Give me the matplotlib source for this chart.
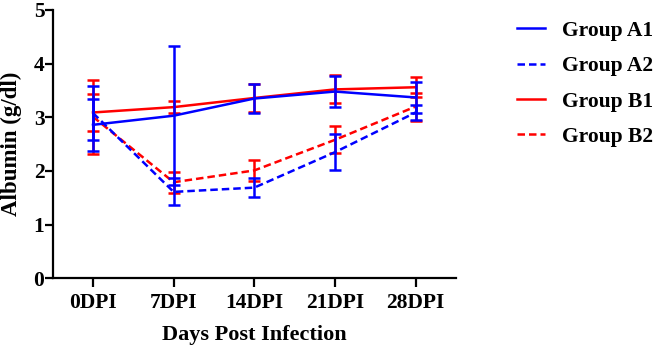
import matplotlib

matplotlib.use("Agg")

import numpy as np
import matplotlib.pyplot as plt

days = ["0DPI", "7DPI", "14DPI", "21DPI", "28DPI"]

a1_mean = [2.86, 3.03, 3.35, 3.48, 3.37]
a1_err = [0.49, 1.30, 0.27, 0.29, 0.29]
a2_mean = [3.08, 1.61, 1.69, 2.35, 3.09]
a2_err = [0.50, 0.25, 0.17, 0.33, 0.14]
b1_mean = [3.09, 3.19, 3.36, 3.52, 3.56]
b1_err = [0.34, 0.115, 0.27, 0.26, 0.19]
b2_mean = [3.01, 1.79, 2.01, 2.58, 3.20]
b2_err = [0.69, 0.20, 0.20, 0.25, 0.26]

plt.rcParams["font.family"] = ["Liberation Serif", "DejaVu Serif"]
plt.rcParams["font.weight"] = "bold"

fig = plt.figure(figsize=(6.6, 3.48), dpi=100)
ax = fig.add_axes([0.0798, 0.2003, 0.611, 0.771])

x = np.arange(len(days))
lw = 1.8
dash = (3.0, 1.6)

series = [
    ("Group B1", b1_mean, b1_err, "#ff0000", "-", 2),
    ("Group B2", b2_mean, b2_err, "#ff0000", "--", 2),
    ("Group A1", a1_mean, a1_err, "#0000ff", "-", 3),
    ("Group A2", a2_mean, a2_err, "#0000ff", "--", 3),
]
handles = {}
for name, mean, err, color, ls, z in series:
    cont = ax.errorbar(
        x, mean, yerr=err, color=color, lw=lw, elinewidth=lw,
        capsize=4, capthick=lw, zorder=z, label=name,
    )
    line = cont.lines[0]
    if ls == "--":
        line.set_linestyle((0, dash))
    handles[name] = line

ax.set_xlim(-0.5, 4.5)
ax.set_ylim(0, 5)
ax.set_xticks(x)
ax.set_xticklabels(days)
ax.set_yticks(range(6))
ax.spines["top"].set_visible(False)
ax.spines["right"].set_visible(False)
for s in ["left", "bottom"]:
    ax.spines[s].set_linewidth(1.6)
ax.tick_params(axis="y", direction="out", length=5.5, width=1.6, labelsize=15.5, pad=0.5)
ax.tick_params(axis="x", direction="out", length=6.5, width=1.6, labelsize=15.5, pad=4)

ax.set_xlabel("Days Post Infection", fontsize=16, fontweight="bold", labelpad=9)
ax.set_ylabel("Albumin (g/dl)", fontsize=16.5, fontweight="bold")
ax.yaxis.set_label_coords(-0.076, 0.5)

order = ["Group A1", "Group A2", "Group B1", "Group B2"]
fig.legend(
    [handles[n] for n in order], order,
    loc="upper left", bbox_to_anchor=(0.770, 0.965),
    frameon=False, fontsize=15.5, handlelength=1.3,
    handletextpad=0.78, labelspacing=0.71, borderaxespad=0,
)

fig.savefig("out.png", dpi=100)
